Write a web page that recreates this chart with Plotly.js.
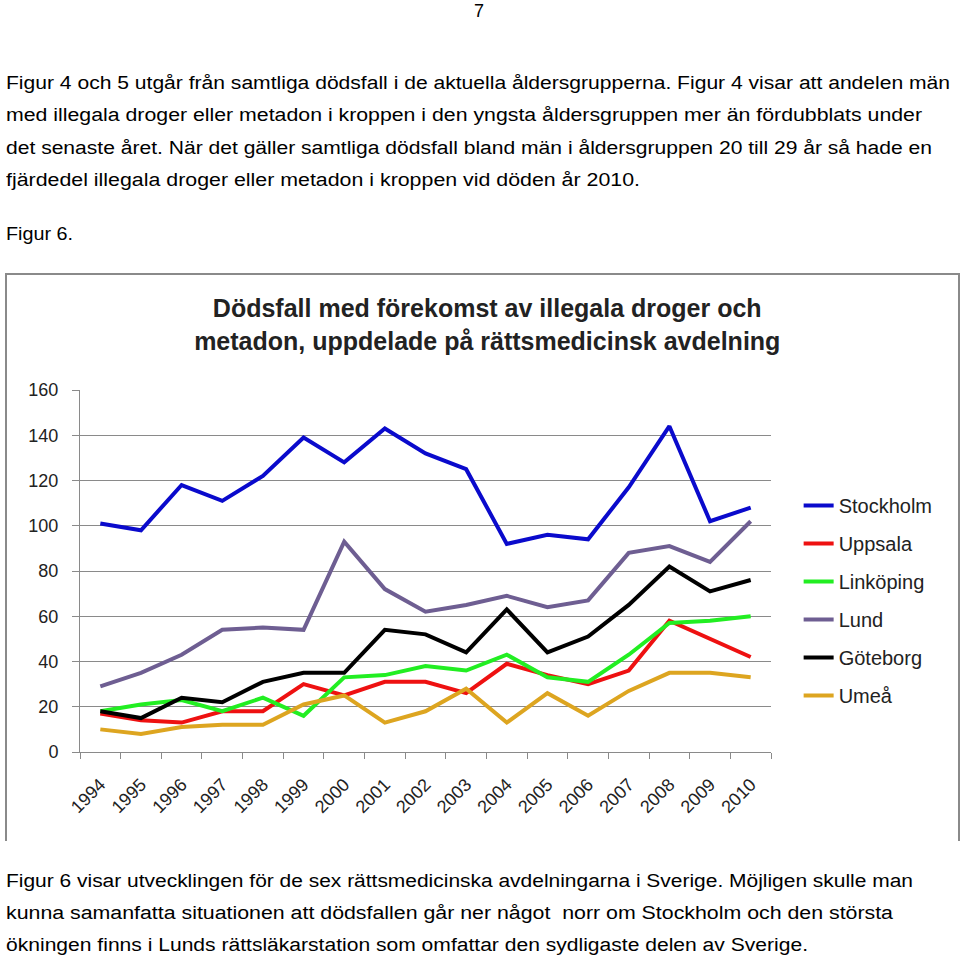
<!DOCTYPE html>
<html>
<head>
<meta charset="utf-8">
<script src="https://cdn.plot.ly/plotly-3.0.1.min.js"></script>
<style>
  html, body { margin: 0; padding: 0; background: #fff; }
  body { width: 960px; height: 960px; position: relative; overflow: hidden;
         font-family: "Liberation Sans", Arial, sans-serif; color: #000; }
  .ln { position: absolute; left: 6px; white-space: nowrap; font-size: 18px; line-height: 18px;
        transform-origin: 0 0; }
  #box { position: absolute; left: 5px; top: 273px; width: 951px; height: 566px;
         border-left: 2px solid #8a8a8a; border-top: 2px solid #8a8a8a; border-right: 2px solid #8a8a8a; }
  #chart { position: absolute; left: 0; top: 0; width: 951px; height: 566px; }
</style>
</head>
<body>
<div class="ln" id="pg" style="left:474px; top:2px;">7</div>
<div class="ln" data-w="944" style="top:74px;">Figur 4 och 5 utgår från samtliga dödsfall i de aktuella åldersgrupperna. Figur 4 visar att andelen män</div>
<div class="ln" data-w="916" style="top:106px;">med illegala droger eller metadon i kroppen i den yngsta åldersgruppen mer än fördubblats under</div>
<div class="ln" data-w="926" style="top:139px;">det senaste året. När det gäller samtliga dödsfall bland män i åldersgruppen 20 till 29 år så hade en</div>
<div class="ln" data-w="634" style="top:171px;">fjärdedel illegala droger eller metadon i kroppen vid döden år 2010.</div>
<div class="ln" data-w="67" style="top:225px;">Figur 6.</div>
<div id="box"><div id="chart"></div></div>
<div class="ln" data-w="907" style="top:872px;">Figur 6 visar utvecklingen för de sex rättsmedicinska avdelningarna i Sverige. Möjligen skulle man</div>
<div class="ln" data-w="887" style="top:904px;">kunna samanfatta situationen att dödsfallen går ner något&nbsp; norr om Stockholm och den största</div>
<div class="ln" data-w="802" style="top:936px;">ökningen finns i Lunds rättsläkarstation som omfattar den sydligaste delen av Sverige.</div>
<script>
// ---- data ----
const years = ["1994","1995","1996","1997","1998","1999","2000","2001","2002","2003","2004","2005","2006","2007","2008","2009","2010"];
const stockholm = [101, 98, 118, 111, 122, 139, 128, 143, 132, 125, 92, 96, 94, 117, 144, 102, 108];
const uppsala   = [17, 14, 13, 18, 18, 30, 25, 31, 31, 26, 39, 34, 30, 36, 58, 50, 42];
const linkoping = [18, 21, 23, 18, 24, 16, 33, 34, 38, 36, 43, 33, 31, 43, 57, 58, 60];
const lund      = [29, 35, 43, 54, 55, 54, 93, 72, 62, 65, 69, 64, 67, 88, 91, 84, 102];
const goteborg  = [18, 15, 24, 22, 31, 35, 35, 54, 52, 44, 63, 44, 51, 65, 82, 71, 76];
const umea      = [10, 8, 11, 12, 12, 21, 25, 13, 18, 28, 13, 26, 16, 27, 35, 35, 33];
const seriesNames = ["Stockholm", "Uppsala", "Linköping", "Lund", "Göteborg", "Umeå"];
const seriesData = [stockholm, uppsala, linkoping, lund, goteborg, umea];
const seriesColors = ["#0A0ACC", "#EE1111", "#22EE22", "#6E5E92", "#000000", "#DDA520"];
const titleText = "Dödsfall med förekomst av illegala droger och<br>metadon, uppdelade på rättsmedicinsk avdelning";

// scale text lines to their measured widths
document.querySelectorAll('.ln[data-w]').forEach(el => {
  const w = el.getBoundingClientRect().width;
  const t = parseFloat(el.dataset.w);
  if (w > 0) el.style.transform = 'scaleX(' + (t / w) + ')';
});

const traces = seriesNames.map((n, i) => ({
  type: 'scatter', mode: 'lines', name: n, x: years, y: seriesData[i],
  legendgroup: 'g' + i,
  line: { color: seriesColors[i], width: 4 }
}));

const axisFont = { family: '"Liberation Sans", Arial, sans-serif', size: 18, color: '#222' };
const layout = {
  width: 951, height: 566,
  paper_bgcolor: '#fff', plot_bgcolor: '#fff',
  margin: { l: 73, r: 187, t: 115, b: 89 },
  showlegend: true,
  title: {
    text: titleText, x: 0.505, xanchor: 'center', y: 0.925, yanchor: 'top', yref: 'container',
    font: { family: '"Liberation Sans", Arial, sans-serif', size: 25, color: '#222', weight: 'bold' }
  },
  xaxis: {
    type: 'category', range: [-0.5, 16.5], tickson: 'boundaries',
    showline: true, linecolor: '#8a8a8a', linewidth: 1,
    ticks: 'outside', ticklen: 6, tickcolor: '#8a8a8a',
    showgrid: false, tickangle: -45, tickfont: axisFont, ticklabelstandoff: 14, fixedrange: true
  },
  yaxis: {
    range: [0, 160], dtick: 20, tick0: 0,
    showline: true, linecolor: '#8a8a8a', linewidth: 1,
    ticks: 'outside', ticklen: 7, tickcolor: '#8a8a8a',
    showgrid: true, gridcolor: '#8a8a8a', gridwidth: 1, zeroline: false,
    tickfont: axisFont, ticklabelstandoff: 10, fixedrange: true
  },
  legend: {
    x: 1.04, xanchor: 'left', y: 0.735, yanchor: 'top',
    font: { family: '"Liberation Sans", Arial, sans-serif', size: 20, color: '#222' },
    traceorder: 'grouped', tracegroupgap: 9, bgcolor: 'rgba(0,0,0,0)'
  }
};
Plotly.newPlot('chart', traces, layout, { staticPlot: true, displayModeBar: false });
</script>
</body>
</html>
